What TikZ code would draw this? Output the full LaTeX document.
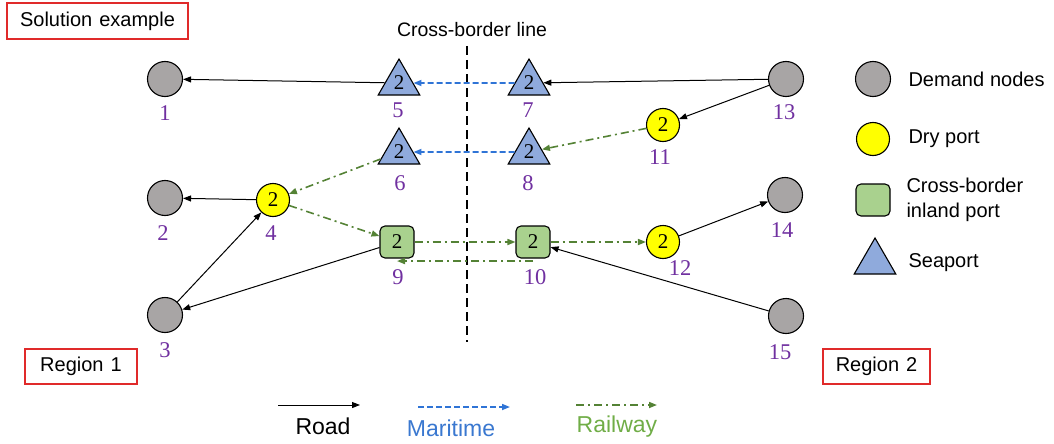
\documentclass[tikz,border=0pt]{standalone}
\usepackage{fontspec}
\setmainfont{Liberation Sans}
\newfontfamily\numfont{Liberation Serif}
\usetikzlibrary{arrows.meta,shapes.geometric}
\definecolor{dgrey}{HTML}{A8A5A5}
\definecolor{dyel}{HTML}{FFFF00}
\definecolor{igreen}{HTML}{A9D18E}
\definecolor{sblue}{HTML}{8FAADC}
\definecolor{mblue}{HTML}{2F74D6}
\definecolor{rgreen}{HTML}{548235}
\definecolor{tgreen}{HTML}{70AD47}
\definecolor{tblue}{HTML}{3A78D0}
\definecolor{lpurple}{HTML}{7030A0}
\definecolor{bred}{HTML}{E02A2A}
\begin{document}
\begin{tikzpicture}[x=1pt,y=-1pt,
  inum/.style={font=\numfont\fontsize{21}{21}\selectfont},
  demand/.style={circle, draw=black, line width=1.1pt, fill=dgrey, minimum size=35pt, inner sep=0pt},
  dry/.style={circle, draw=black, line width=1.1pt, fill=dyel, minimum size=33pt, inner sep=0pt, inum},
  inland/.style={rectangle, rounded corners=5pt, draw=black, line width=1.1pt, fill=igreen, minimum width=34pt, minimum height=32pt, inner sep=0pt, inum},
  sea/.style={regular polygon, regular polygon sides=3, draw=black, line width=1.1pt, fill=sblue, minimum size=48pt, inner sep=0pt, inum},
  lab/.style={text=lpurple, font=\numfont\fontsize{22.5}{22}\selectfont},
  tip/.style={-{Triangle[length=8pt,width=6pt]}},
  road/.style={draw=black, line width=1pt, tip},
  mar/.style={draw=mblue, line width=1.6pt, dash pattern=on 6pt off 3pt, tip},
  rail/.style={draw=rgreen, line width=1.6pt, dash pattern=on 8pt off 4pt on 2pt off 4pt, tip},
  redbox/.style={draw=bred, line width=1.2pt, inner sep=0pt, font=\fontsize{20}{22}\selectfont},
  legtext/.style={anchor=west, font=\fontsize{20}{25}\selectfont, align=left},
  bottext/.style={font=\fontsize{23}{26}\selectfont}
]
\useasboundingbox (0,0) rectangle (1054,444);

% title boxes
\node[redbox, minimum width=181pt, minimum height=36pt] (sol) at (97.5,21) {Solution\hspace{0.35em}example};
\node[redbox, minimum width=112pt, minimum height=35pt] (r1) at (81,366.5) {Region\hspace{0.35em}1};
\node[redbox, minimum width=107pt, minimum height=35pt] (r2) at (876.5,366.5) {Region\hspace{0.35em}2};
\node[font=\fontsize{19.5}{22}\selectfont] (cbl) at (472,30) {Cross-border\hspace{0.3em}line};

% cross-border line
\coordinate (cbt) at (467,46);
\coordinate (cbb) at (467,342);
\draw[black, line width=2.2pt, dash pattern=on 9pt off 5pt] (cbt) -- (cbb);

% nodes
\node[demand] (n1) at (165,79) {};
\node[demand] (n2) at (165,198) {};
\node[demand] (n3) at (165,315) {};
\node[demand] (n13) at (786,79) {};
\node[demand] (n14) at (785,195) {};
\node[demand] (n15) at (786,316) {};
\node[dry] (n4) at (273,200) {2};
\node[dry] (n11) at (663,125) {2};
\node[dry] (n12) at (663,242) {2};
\node[sea] (n5) at (399,83) {2};
\node[sea] (n7) at (529,83) {2};
\node[sea] (n6) at (399,152) {2};
\node[sea] (n8) at (529,152) {2};
\node[inland] (n9) at (397,242) {2};
\node[inland] (n10) at (533,242) {2};

% labels
\node[lab] (l1) at (165,113) {1};
\node[lab] (l2) at (163,233) {2};
\node[lab] (l3) at (165,350) {3};
\node[lab] (l4) at (271,233) {4};
\node[lab] (l5) at (398,110) {5};
\node[lab] (l6) at (400,183) {6};
\node[lab] (l7) at (528,110) {7};
\node[lab] (l8) at (528,183) {8};
\node[lab] (l9) at (398,277) {9};
\node[lab] (l10) at (535,277) {10};
\node[lab] (l11) at (660,157) {11};
\node[lab] (l12) at (680,268) {12};
\node[lab] (l13) at (784,112) {13};
\node[lab] (l14) at (782,230) {14};
\node[lab] (l15) at (780,352) {15};

% connectors
\draw[road] (n5) -- (n1);
\draw[road] (n13) -- (n7);
\draw[mar] (n7) -- (n5);
\draw[mar] (n8) -- (n6);
\draw[rail] (n11) -- (n8);
\draw[road] (n13) -- (n11);
\draw[rail] (n6) -- (n4);
\draw[road] (n4) -- (n2);
\draw[rail] (n4) -- (n9);
\draw[road] (n3) -- (n4);
\draw[road] (n9) -- (n3);
\draw[rail] (n9.east) -- (n10.west);
\draw[rail] ([yshift=-2.5pt]n10.south) -- ([yshift=-2.5pt]n9.south);
\draw[rail] (n10) -- (n12);
\draw[road] (n12) -- (n14);
\draw[road] (n15) -- (n10);

% right legend
\node[demand] (lg1) at (873,79) {};
\node[legtext] (lt1) at (905,79) {Demand\hspace{0.3em}nodes};
\node[dry] (lg2) at (873,139) {};
\node[legtext] (lt2) at (905,139) {Dry port};
\node[inland] (lg3) at (873,200) {};
\node[legtext] (lt3) at (903,200) {Cross-border\\inland port};
\node[sea] (lg4) at (875,262) {};
\node[legtext] (lt4) at (905,263) {Seaport};

% bottom legend
\coordinate (ra) at (278,405);
\coordinate (rb) at (360,405);
\draw[road] (ra) -- (rb);
\node[bottext] (rt) at (323,426) {Road};
\coordinate (ma) at (418,407);
\coordinate (mb) at (510,407);
\draw[mar] (ma) -- (mb);
\node[bottext, text=tblue] (mt) at (451,428) {Maritime};
\coordinate (wa) at (576,405);
\coordinate (wb) at (657,405);
\draw[rail] (wa) -- (wb);
\node[bottext, text=tgreen] (wt) at (617,427) {Railway};
\end{tikzpicture}
\end{document}
